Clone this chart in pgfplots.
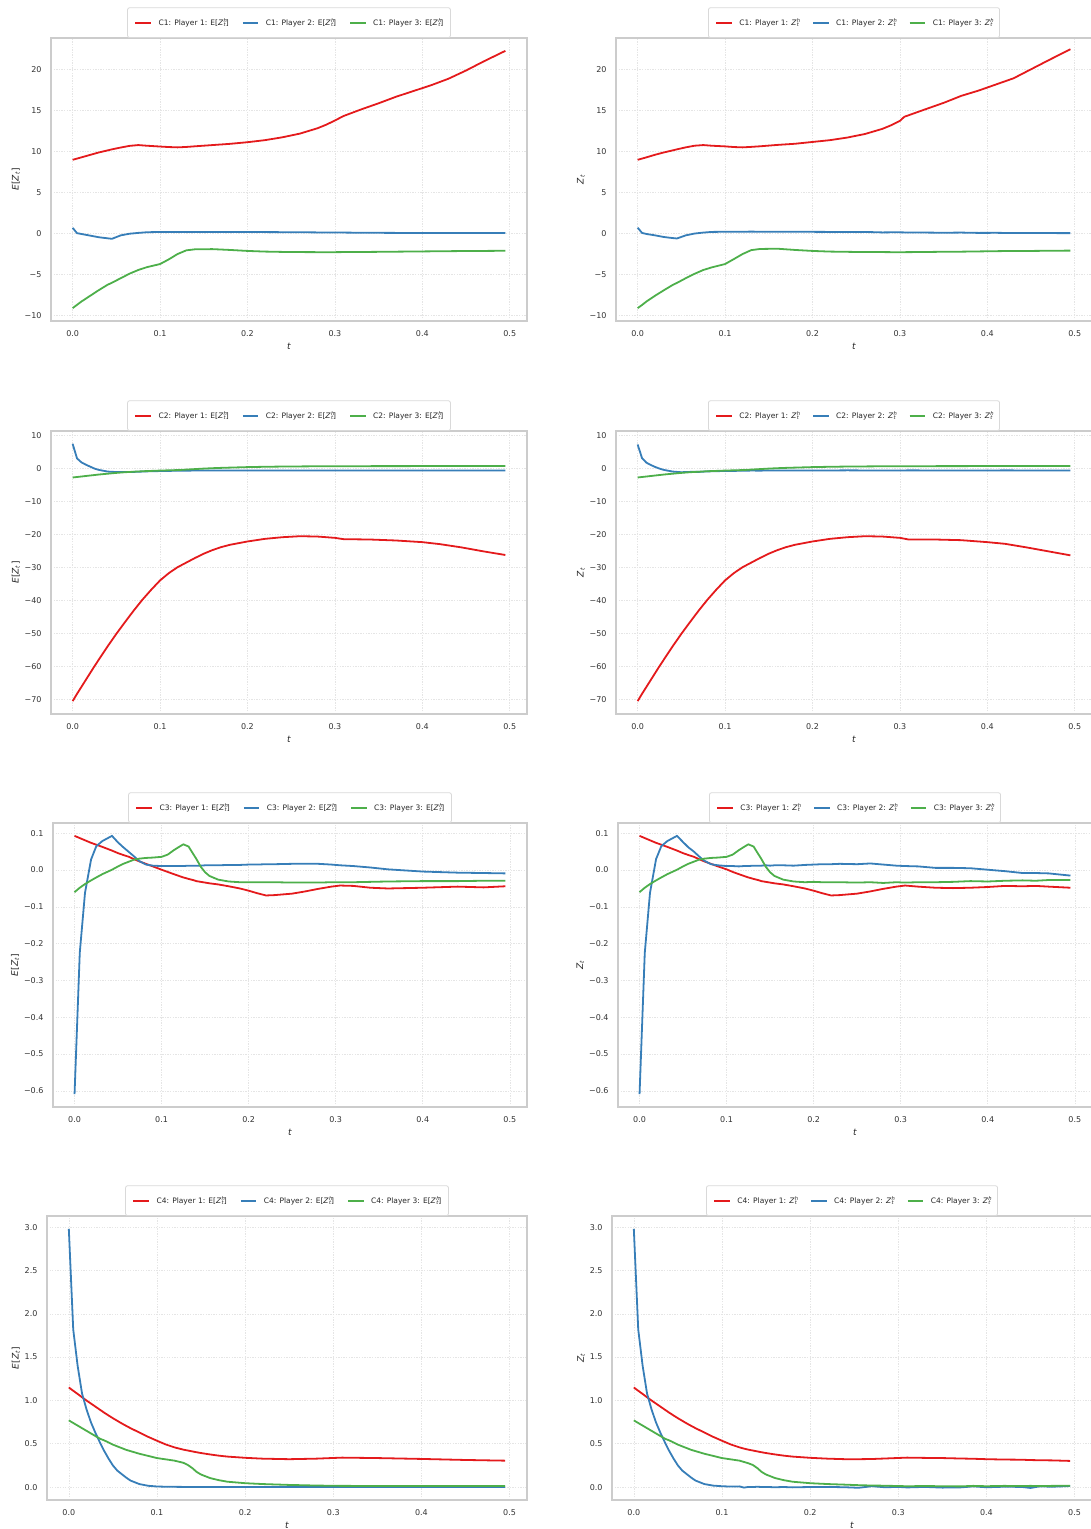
\documentclass[border=0pt]{standalone}
\usepackage{pgfplots}
\pgfplotsset{compat=1.18}
\usepackage{pgfplotstable}
\usepackage{fontspec}
\setmainfont{DejaVu Sans}
\definecolor{cR}{HTML}{E41A1C}
\definecolor{cB}{HTML}{377EB8}
\definecolor{cG}{HTML}{4DAF4A}
\newcommand{\Zht}{\textit{Z}\kern0.3pt\raisebox{2.8pt}{\makebox[0pt][l]{\fontsize{5.2}{6}\selectfont\textit{h}}}\raisebox{-1.4pt}{\fontsize{5.2}{6}\selectfont\textit{t}}}

\pgfplotstableread{
t r b g
0.000 9.00 0.70 -9.10
0.005 9.15 0.05 -8.70
0.010 9.30 -0.05 -8.30
0.020 9.60 -0.25 -7.60
0.030 9.90 -0.45 -6.90
0.040 10.15 -0.58 -6.25
0.045 10.28 -0.64 -6.00
0.055 10.50 -0.22 -5.45
0.065 10.70 -0.02 -4.90
0.075 10.80 0.08 -4.45
0.085 10.72 0.16 -4.10
0.100 10.62 0.20 -3.72
0.110 10.56 0.20 -3.15
0.120 10.52 0.20 -2.50
0.130 10.57 0.20 -2.05
0.140 10.65 0.20 -1.92
0.160 10.80 0.20 -1.90
0.180 10.95 0.20 -2.00
0.200 11.15 0.19 -2.12
0.220 11.40 0.18 -2.20
0.240 11.75 0.17 -2.24
0.260 12.20 0.16 -2.26
0.280 12.85 0.14 -2.27
0.290 13.28 0.13 -2.27
0.300 13.80 0.12 -2.27
0.310 14.35 0.12 -2.26
0.330 15.15 0.10 -2.25
0.350 15.90 0.09 -2.23
0.370 16.70 0.08 -2.21
0.390 17.40 0.08 -2.19
0.410 18.10 0.07 -2.17
0.430 18.90 0.07 -2.15
0.450 19.90 0.07 -2.13
0.470 21.00 0.07 -2.12
0.495 22.30 0.07 -2.10
}\cEa
\pgfplotstableread{
t r b g
0.000 9.00 0.72 -9.10
0.005 9.15 0.08 -8.72
0.010 9.30 -0.05 -8.30
0.020 9.62 -0.22 -7.58
0.030 9.90 -0.42 -6.92
0.040 10.15 -0.55 -6.28
0.045 10.28 -0.60 -6.02
0.055 10.52 -0.22 -5.45
0.065 10.72 0.00 -4.92
0.075 10.80 0.12 -4.45
0.085 10.72 0.20 -4.12
0.100 10.64 0.22 -3.72
0.110 10.56 0.22 -3.12
0.120 10.52 0.22 -2.50
0.130 10.58 0.24 -2.02
0.140 10.65 0.22 -1.88
0.160 10.82 0.22 -1.85
0.180 10.96 0.21 -2.00
0.200 11.18 0.21 -2.12
0.220 11.40 0.20 -2.20
0.240 11.72 0.18 -2.23
0.260 12.15 0.20 -2.26
0.280 12.78 0.14 -2.26
0.290 13.22 0.15 -2.27
0.300 13.75 0.15 -2.27
0.305 14.25 0.14 -2.27
0.330 15.20 0.12 -2.25
0.350 15.95 0.10 -2.22
0.370 16.80 0.12 -2.21
0.390 17.45 0.08 -2.18
0.410 18.20 0.09 -2.15
0.430 18.95 0.06 -2.12
0.450 20.05 0.08 -2.12
0.470 21.15 0.06 -2.10
0.495 22.50 0.05 -2.08
}\cZa
\pgfplotstableread{
t r b g
0.000 -70.5 7.5 -2.70
0.005 -68.3 3.1 -2.55
0.010 -66.2 1.9 -2.40
0.015 -64.1 1.2 -2.25
0.020 -62.0 0.6 -2.10
0.025 -59.9 0.0 -1.95
0.030 -57.9 -0.4 -1.80
0.040 -53.9 -0.9 -1.55
0.050 -50.1 -1.05 -1.30
0.060 -46.5 -1.05 -1.10
0.070 -43.0 -1.00 -0.95
0.080 -39.7 -0.90 -0.80
0.090 -36.7 -0.80 -0.70
0.100 -33.9 -0.75 -0.60
0.110 -31.7 -0.70 -0.52
0.120 -29.9 -0.65 -0.45
0.130 -28.5 -0.62 -0.30
0.140 -27.1 -0.60 -0.15
0.150 -25.8 -0.60 0.00
0.160 -24.7 -0.58 0.12
0.170 -23.8 -0.57 0.22
0.180 -23.1 -0.56 0.30
0.200 -22.1 -0.55 0.45
0.220 -21.3 -0.55 0.55
0.240 -20.8 -0.55 0.62
0.260 -20.5 -0.55 0.66
0.280 -20.6 -0.55 0.70
0.300 -21.0 -0.55 0.72
0.310 -21.4 -0.55 0.72
0.340 -21.5 -0.55 0.74
0.370 -21.8 -0.55 0.75
0.400 -22.3 -0.55 0.76
0.420 -22.9 -0.55 0.77
0.445 -23.9 -0.55 0.78
0.470 -25.1 -0.55 0.79
0.495 -26.2 -0.55 0.80
}\cEb
\pgfplotstableread{
t r b g
0.000 -70.5 7.3 -2.70
0.005 -68.3 3.2 -2.55
0.010 -66.2 1.8 -2.40
0.015 -64.1 1.1 -2.25
0.020 -62.0 0.5 -2.10
0.025 -59.9 0.0 -1.95
0.030 -57.9 -0.4 -1.80
0.040 -53.9 -0.9 -1.55
0.050 -50.1 -1.10 -1.30
0.060 -46.5 -1.00 -1.10
0.070 -43.0 -1.00 -0.95
0.080 -39.7 -0.85 -0.80
0.090 -36.7 -0.80 -0.70
0.100 -33.9 -0.70 -0.60
0.110 -31.7 -0.70 -0.52
0.120 -29.9 -0.65 -0.45
0.130 -28.5 -0.60 -0.30
0.140 -27.1 -0.62 -0.15
0.150 -25.8 -0.58 0.00
0.160 -24.7 -0.60 0.12
0.170 -23.8 -0.55 0.22
0.180 -23.1 -0.58 0.30
0.200 -22.1 -0.55 0.45
0.220 -21.3 -0.57 0.55
0.240 -20.8 -0.53 0.62
0.260 -20.5 -0.56 0.66
0.280 -20.6 -0.55 0.70
0.300 -21.0 -0.57 0.72
0.310 -21.5 -0.54 0.72
0.340 -21.5 -0.56 0.74
0.370 -21.7 -0.55 0.75
0.400 -22.3 -0.57 0.77
0.420 -22.8 -0.54 0.76
0.445 -23.9 -0.56 0.78
0.470 -25.1 -0.55 0.78
0.495 -26.3 -0.56 0.80
}\cZb
\pgfplotstableread{
t r b g
0.000 0.093 -0.609 -0.060
0.006 0.087 -0.225 -0.048
0.012 0.081 -0.062 -0.038
0.019 0.074 0.029 -0.028
0.025 0.069 0.065 -0.020
0.032 0.063 0.079 -0.011
0.043 0.053 0.093 0.001
0.050 0.046 0.075 0.010
0.056 0.041 0.062 0.017
0.0625 0.036 0.049 0.023
0.068 0.030 0.038 0.028
0.074 0.024 0.025 0.031
0.082 0.017 0.015 0.033
0.090 0.010 0.012 0.034
0.100 0.001 0.011 0.036
0.107 -0.005 0.011 0.042
0.114 -0.011 0.011 0.054
0.120 -0.016 0.011 0.063
0.125 -0.020 0.011 0.070
0.131 -0.024 0.012 0.064
0.136 -0.027 0.012 0.045
0.140 -0.030 0.012 0.030
0.145 -0.032 0.012 0.009
0.150 -0.034 0.013 -0.006
0.155 -0.036 0.013 -0.016
0.165 -0.039 0.013 -0.026
0.177 -0.044 0.014 -0.031
0.190 -0.050 0.014 -0.033
0.200 -0.056 0.015 -0.033
0.210 -0.063 0.015 -0.033
0.220 -0.069 0.016 -0.033
0.230 -0.068 0.016 -0.033
0.250 -0.064 0.017 -0.034
0.265 -0.058 0.017 -0.034
0.280 -0.051 0.017 -0.034
0.295 -0.045 0.015 -0.033
0.305 -0.042 0.013 -0.033
0.320 -0.043 0.011 -0.033
0.340 -0.048 0.007 -0.032
0.360 -0.050 0.002 -0.031
0.400 -0.048 -0.004 -0.030
0.440 -0.045 -0.007 -0.030
0.470 -0.047 -0.008 -0.029
0.495 -0.044 -0.009 -0.029
}\cEc
\pgfplotstableread{
t r b g
0.000 0.093 -0.609 -0.060
0.006 0.087 -0.225 -0.048
0.012 0.081 -0.062 -0.038
0.019 0.074 0.030 -0.028
0.025 0.069 0.065 -0.020
0.032 0.063 0.079 -0.011
0.043 0.053 0.093 0.001
0.050 0.046 0.076 0.010
0.056 0.041 0.062 0.017
0.0625 0.036 0.050 0.023
0.068 0.030 0.038 0.028
0.074 0.024 0.026 0.031
0.082 0.017 0.016 0.033
0.090 0.010 0.013 0.034
0.100 0.002 0.011 0.036
0.107 -0.005 0.011 0.042
0.114 -0.011 0.010 0.054
0.120 -0.016 0.011 0.063
0.125 -0.020 0.011 0.070
0.131 -0.024 0.012 0.064
0.136 -0.027 0.012 0.045
0.140 -0.030 0.012 0.030
0.145 -0.032 0.013 0.009
0.150 -0.034 0.012 -0.006
0.155 -0.036 0.013 -0.016
0.165 -0.039 0.013 -0.026
0.177 -0.044 0.012 -0.031
0.190 -0.050 0.014 -0.033
0.200 -0.056 0.015 -0.032
0.210 -0.063 0.016 -0.033
0.220 -0.069 0.016 -0.033
0.230 -0.068 0.017 -0.033
0.250 -0.064 0.016 -0.034
0.265 -0.058 0.018 -0.033
0.280 -0.051 0.015 -0.035
0.295 -0.045 0.012 -0.033
0.305 -0.042 0.011 -0.034
0.320 -0.045 0.010 -0.033
0.340 -0.048 0.006 -0.033
0.360 -0.049 0.006 -0.032
0.380 -0.048 0.005 -0.030
0.400 -0.046 0.001 -0.031
0.420 -0.043 -0.003 -0.029
0.440 -0.044 -0.008 -0.028
0.455 -0.043 -0.008 -0.029
0.470 -0.045 -0.009 -0.027
0.495 -0.048 -0.015 -0.027
}\cZc
\pgfplotstableread{
t r b g
0.000 1.150 2.98 0.77
0.005 1.112 1.82 0.74
0.010 1.075 1.40 0.71
0.015 1.037 1.08 0.68
0.020 1.000 0.90 0.65
0.025 0.965 0.75 0.62
0.030 0.930 0.63 0.59
0.036 0.888 0.50 0.555
0.040 0.860 0.42 0.54
0.045 0.827 0.33 0.515
0.050 0.795 0.25 0.49
0.055 0.765 0.19 0.47
0.060 0.735 0.15 0.45
0.065 0.707 0.11 0.43
0.070 0.680 0.075 0.415
0.080 0.630 0.035 0.385
0.090 0.580 0.015 0.36
0.100 0.535 0.007 0.335
0.110 0.492 0.004 0.32
0.120 0.458 0.003 0.305
0.130 0.432 0.002 0.28
0.135 0.422 0.002 0.255
0.140 0.412 0.002 0.22
0.145 0.402 0.002 0.175
0.150 0.393 0.002 0.145
0.160 0.377 0.001 0.105
0.170 0.363 0.001 0.08
0.180 0.352 0.001 0.062
0.200 0.338 0.001 0.045
0.220 0.328 0.001 0.035
0.250 0.322 0.000 0.025
0.280 0.328 0.000 0.018
0.300 0.336 0.000 0.015
0.310 0.340 0.000 0.014
0.350 0.335 0.000 0.013
0.400 0.325 0.000 0.012
0.450 0.313 0.000 0.012
0.495 0.305 0.000 0.012
}\cEd
\pgfplotstableread{
t r b g
0.000 1.150 2.98 0.77
0.005 1.112 1.82 0.74
0.010 1.075 1.40 0.71
0.015 1.037 1.08 0.68
0.020 1.000 0.90 0.65
0.025 0.965 0.75 0.62
0.030 0.930 0.63 0.59
0.036 0.888 0.50 0.555
0.040 0.860 0.42 0.54
0.045 0.827 0.33 0.515
0.050 0.795 0.25 0.49
0.055 0.765 0.19 0.47
0.060 0.735 0.15 0.45
0.065 0.707 0.11 0.43
0.070 0.680 0.075 0.415
0.080 0.630 0.035 0.385
0.090 0.580 0.017 0.36
0.100 0.535 0.010 0.335
0.110 0.492 0.006 0.32
0.120 0.458 0.008 0.305
0.125 0.444 -0.006 0.29
0.130 0.432 0.002 0.275
0.135 0.422 0.000 0.255
0.140 0.412 0.004 0.22
0.145 0.402 0.001 0.175
0.150 0.393 0.002 0.145
0.160 0.377 -0.002 0.105
0.170 0.363 0.001 0.08
0.180 0.352 -0.003 0.062
0.200 0.338 0.001 0.045
0.220 0.328 0.002 0.035
0.240 0.322 -0.002 0.028
0.255 0.322 -0.008 0.022
0.270 0.324 0.010 0.018
0.285 0.330 -0.002 0.016
0.300 0.336 0.002 0.012
0.310 0.340 -0.004 0.010
0.330 0.337 0.002 0.012
0.350 0.335 -0.006 0.010
0.370 0.330 -0.004 0.008
0.385 0.327 0.008 0.014
0.400 0.322 -0.002 0.010
0.420 0.318 0.004 0.014
0.440 0.316 0.002 0.012
0.450 0.312 -0.010 0.014
0.460 0.310 0.008 0.012
0.475 0.308 0.004 0.014
0.495 0.302 0.012 0.016
}\cZd

\pgfplotsset{
  base/.style={
    scale only axis, anchor=south west,
    xmin=-0.02475, xmax=0.51975,
    xtick={0,0.1,0.2,0.3,0.4,0.5},
    xticklabels={0.0,0.1,0.2,0.3,0.4,0.5},
    grid=major,
    major grid style={black!10, line width=0.6pt, dash pattern=on 1.3pt off 1.3pt},
    axis line style={black!20, line width=1.6pt},
    major tick length=0pt,
    tick label style={font=\fontsize{8}{9}\selectfont, text=black!80},
    xticklabel style={yshift=-6pt},
    yticklabel style={xshift=-6pt},
    label style={font=\fontsize{9}{10}\selectfont, text=black!85},
    xlabel={\textit{t}},
    xlabel style={yshift=0pt},
    ylabel style={yshift=-2pt},
    legend style={at={(0.5,1)}, anchor=south, draw=black!15, line width=0.8pt,
      rounded corners=2pt, fill=white, font=\fontsize{7.5}{9}\selectfont, text=black!85,
      legend columns=3, inner xsep=7pt, inner ysep=10.3pt,
      nodes={inner xsep=0pt, inner ysep=0.5pt},
      /tikz/every odd column/.append style={column sep=6.5pt},
      /tikz/every even column/.append style={column sep=13pt}},
    legend cell align=left,
    every axis plot/.append style={line width=1.8pt},
  },
  pr/.style={cR, legend image code/.code={\draw[cR, line width=1.8pt, sharp corners] (0pt,0pt) -- (15.7pt,0pt);}},
  pb/.style={cB, legend image code/.code={\draw[cB, line width=1.8pt, sharp corners] (0pt,0pt) -- (15.7pt,0pt);}},
  pg/.style={cG, legend image code/.code={\draw[cG, line width=1.8pt, sharp corners] (0pt,0pt) -- (15.7pt,0pt);}},
}

\begin{document}
\begin{tikzpicture}
\path[use as bounding box] (0pt,0pt) rectangle (1091pt,1529pt);
\clip (0pt,0pt) rectangle (1091pt,1529pt);

% ---------- Row 1 ----------
\begin{axis}[base, at={(51pt,1208pt)}, width=476pt, height=283pt,
  ymin=-10.67, ymax=23.87, ytick={-10,-5,0,5,10,15,20}, yticklabels={−10,−5,0,5,10,15,20},
  ylabel={\textit{E}[\textit{Z}\textsubscript{\textit{t}}]}]
\addplot[pr] table[x=t,y=r]{\cEa}; \addlegendentry{C1: Player 1: E[\Zht]}
\addplot[pb] table[x=t,y=b]{\cEa}; \addlegendentry{C1: Player 2: E[\Zht]}
\addplot[pg] table[x=t,y=g]{\cEa}; \addlegendentry{C1: Player 3: E[\Zht]}
\end{axis}
\begin{axis}[base, at={(616pt,1208pt)}, width=476pt, height=283pt,
  ymin=-10.67, ymax=23.87, ytick={-10,-5,0,5,10,15,20}, yticklabels={−10,−5,0,5,10,15,20},
  ylabel={\textit{Z}\textsubscript{\textit{t}}}]
\addplot[pr] table[x=t,y=r]{\cZa}; \addlegendentry{C1: Player 1: \Zht}
\addplot[pb] table[x=t,y=b]{\cZa}; \addlegendentry{C1: Player 2: \Zht}
\addplot[pg] table[x=t,y=g]{\cZa}; \addlegendentry{C1: Player 3: \Zht}
\end{axis}

% ---------- Row 2 ----------
\begin{axis}[base, at={(51pt,815pt)}, width=476pt, height=283pt,
  ymin=-74.4, ymax=11.4, ytick={-70,-60,-50,-40,-30,-20,-10,0,10}, yticklabels={−70,−60,−50,−40,−30,−20,−10,0,10},
  ylabel={\textit{E}[\textit{Z}\textsubscript{\textit{t}}]}]
\addplot[pr] table[x=t,y=r]{\cEb}; \addlegendentry{C2: Player 1: E[\Zht]}
\addplot[pb] table[x=t,y=b]{\cEb}; \addlegendentry{C2: Player 2: E[\Zht]}
\addplot[pg] table[x=t,y=g]{\cEb}; \addlegendentry{C2: Player 3: E[\Zht]}
\end{axis}
\begin{axis}[base, at={(616pt,815pt)}, width=476pt, height=283pt,
  ymin=-74.4, ymax=11.4, ytick={-70,-60,-50,-40,-30,-20,-10,0,10}, yticklabels={−70,−60,−50,−40,−30,−20,−10,0,10},
  ylabel={\textit{Z}\textsubscript{\textit{t}}}]
\addplot[pr] table[x=t,y=r]{\cZb}; \addlegendentry{C2: Player 1: \Zht}
\addplot[pb] table[x=t,y=b]{\cZb}; \addlegendentry{C2: Player 2: \Zht}
\addplot[pg] table[x=t,y=g]{\cZb}; \addlegendentry{C2: Player 3: \Zht}
\end{axis}

% ---------- Row 3 ----------
\begin{axis}[base, at={(53pt,422pt)}, width=474pt, height=284pt,
  ymin=-0.644, ymax=0.128, ytick={-0.6,-0.5,-0.4,-0.3,-0.2,-0.1,0,0.1}, yticklabels={−0.6,−0.5,−0.4,−0.3,−0.2,−0.1,0.0,0.1},
  ylabel={\textit{E}[\textit{Z}\textsubscript{\textit{t}}]}]
\addplot[pr] table[x=t,y=r]{\cEc}; \addlegendentry{C3: Player 1: E[\Zht]}
\addplot[pb] table[x=t,y=b]{\cEc}; \addlegendentry{C3: Player 2: E[\Zht]}
\addplot[pg] table[x=t,y=g]{\cEc}; \addlegendentry{C3: Player 3: E[\Zht]}
\end{axis}
\begin{axis}[base, at={(618pt,422pt)}, width=474pt, height=284pt,
  ymin=-0.644, ymax=0.128, ytick={-0.6,-0.5,-0.4,-0.3,-0.2,-0.1,0,0.1}, yticklabels={−0.6,−0.5,−0.4,−0.3,−0.2,−0.1,0.0,0.1},
  ylabel={\textit{Z}\textsubscript{\textit{t}}}]
\addplot[pr] table[x=t,y=r]{\cZc}; \addlegendentry{C3: Player 1: \Zht}
\addplot[pb] table[x=t,y=b]{\cZc}; \addlegendentry{C3: Player 2: \Zht}
\addplot[pg] table[x=t,y=g]{\cZc}; \addlegendentry{C3: Player 3: \Zht}
\end{axis}

% ---------- Row 4 ----------
\begin{axis}[base, at={(47pt,29pt)}, width=480pt, height=284pt,
  ymin=-0.149, ymax=3.129, ytick={0,0.5,1,1.5,2,2.5,3}, yticklabels={0.0,0.5,1.0,1.5,2.0,2.5,3.0},
  ylabel={\textit{E}[\textit{Z}\textsubscript{\textit{t}}]}]
\addplot[pr] table[x=t,y=r]{\cEd}; \addlegendentry{C4: Player 1: E[\Zht]}
\addplot[pb] table[x=t,y=b]{\cEd}; \addlegendentry{C4: Player 2: E[\Zht]}
\addplot[pg] table[x=t,y=g]{\cEd}; \addlegendentry{C4: Player 3: E[\Zht]}
\end{axis}
\begin{axis}[base, at={(612pt,29pt)}, width=480pt, height=284pt,
  ymin=-0.149, ymax=3.129, ytick={0,0.5,1,1.5,2,2.5,3}, yticklabels={0.0,0.5,1.0,1.5,2.0,2.5,3.0},
  ylabel={\textit{Z}\textsubscript{\textit{t}}}]
\addplot[pr] table[x=t,y=r]{\cZd}; \addlegendentry{C4: Player 1: \Zht}
\addplot[pb] table[x=t,y=b]{\cZd}; \addlegendentry{C4: Player 2: \Zht}
\addplot[pg] table[x=t,y=g]{\cZd}; \addlegendentry{C4: Player 3: \Zht}
\end{axis}
\end{tikzpicture}
\end{document}
